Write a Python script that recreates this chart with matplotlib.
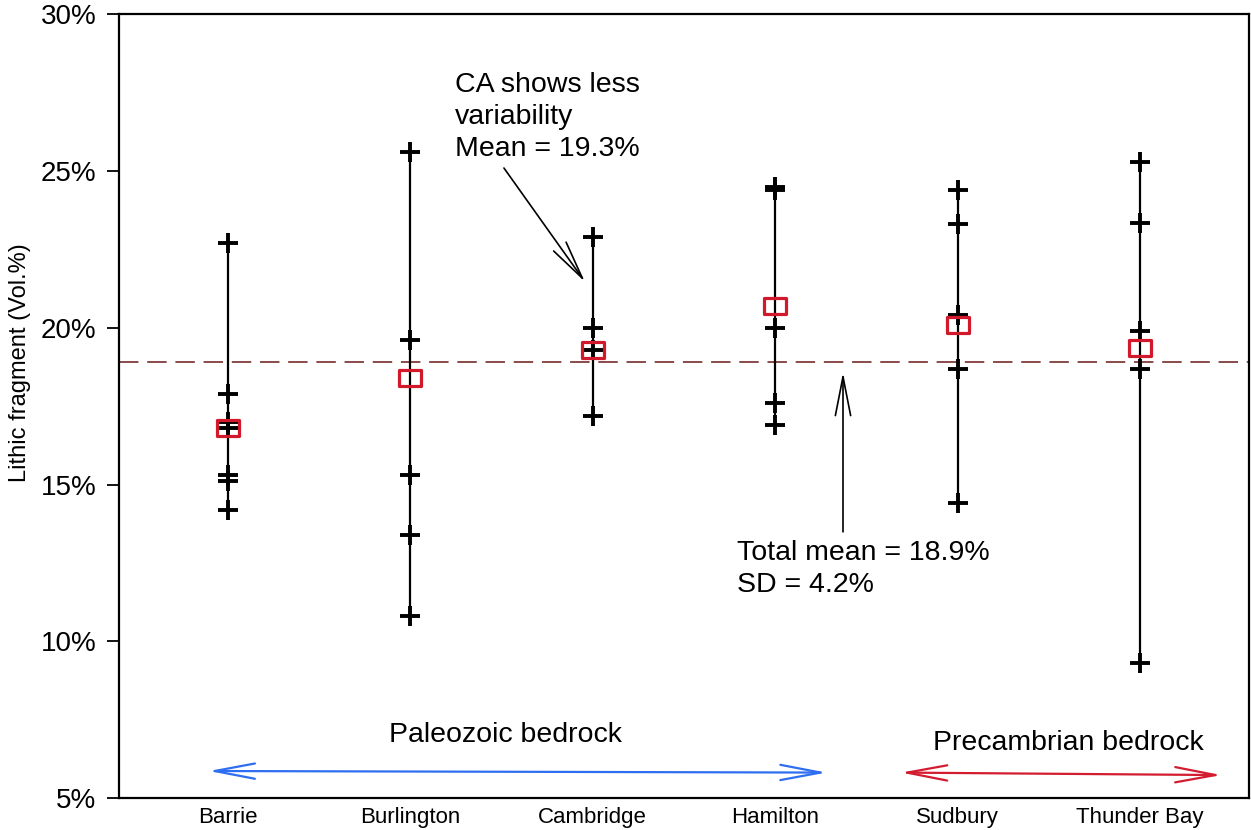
import numpy as np
import matplotlib
matplotlib.use("Agg")
import matplotlib.pyplot as plt
from matplotlib.path import Path

plt.rcParams['font.family'] = ['Liberation Sans', 'DejaVu Sans']

# lithic fragment content per sample (Vol.%)
sites = ["Barrie", "Burlington", "Cambridge", "Hamilton", "Sudbury", "Thunder Bay"]
barrie = [22.7, 17.9, 17.0, 16.8, 15.3, 15.1, 14.2]
burlington = [25.6, 19.6, 15.3, 13.4, 10.8]
cambridge = [22.9, 20.0, 19.3, 17.2]
hamilton = [24.5, 24.4, 20.0, 17.6, 16.9]
sudbury = [24.4, 23.3, 20.4, 18.7, 14.4]
thunder_bay = [25.3, 23.35, 19.9, 18.7, 9.3]
site_means = [16.8, 18.4, 19.3, 20.7, 20.1, 19.35]

total_mean = 18.9
total_sd = 4.2
ca_mean = 19.3

yticks = [5, 10, 15, 20, 25, 30]
ytick_labels = ["5%", "10%", "15%", "20%", "25%", "30%"]

samples = [barrie, burlington, cambridge, hamilton, sudbury, thunder_bay]
xpos = np.arange(1, len(sites) + 1)

fig = plt.figure(figsize=(12.51, 8.30), dpi=100)
ax = fig.add_axes([0.0955, 0.0386, 0.9029, 0.9440])

# range line + individual samples for each site
for x, vals in zip(xpos, samples):
    ax.plot([x, x], [min(vals), max(vals)], color="black", lw=1.6, zorder=2)
    ax.plot([x] * len(vals), vals, ls="none", marker="+", ms=15,
            mew=2.8, color="black", zorder=3)

# wide open box for the site mean
box = Path([(-1.45, -1), (1.45, -1), (1.45, 1), (-1.45, 1), (-1.45, -1)],
           [Path.MOVETO, Path.LINETO, Path.LINETO, Path.LINETO, Path.CLOSEPOLY])
ax.plot(xpos, site_means, ls="none", marker=box, ms=16.5, mew=2.3,
        mfc="none", mec="#d2192b", zorder=4)

ax.axhline(total_mean, color="#8a4a4a", lw=1.4, dashes=(10, 4.5), zorder=1)

head = "->,head_length=2.8,head_width=0.55"
ax.text(2.245, 28.17, "CA shows less\nvariability\nMean = %.1f%%" % ca_mean,
        fontsize=20.5, ha="left", va="top", linespacing=1.3)
ax.annotate("", xy=(2.957, 21.47), xytext=(2.513, 25.10),
            arrowprops=dict(arrowstyle=head, color="black", lw=1.2,
                            shrinkA=0, shrinkB=0))
ax.annotate("", xy=(4.372, 18.58), xytext=(4.372, 13.49),
            arrowprops=dict(arrowstyle=head, color="black", lw=1.2,
                            shrinkA=0, shrinkB=0))
ax.text(3.79, 13.23, "Total mean = %.1f%%\nSD = %.1f%%" % (total_mean, total_sd),
        fontsize=20.5, ha="left", va="top", linespacing=1.3)

# bedrock groups
ax.annotate("", xy=(0.894, 5.86), xytext=(4.282, 5.81),
            arrowprops=dict(arrowstyle="<->,head_length=2.9,head_width=0.55",
                            color="#2f6ef0", lw=1.6, shrinkA=0, shrinkB=0))
ax.text(2.524, 7.01, "Paleozoic bedrock", fontsize=20.5, ha="center", va="center")
ax.annotate("", xy=(4.69, 5.81), xytext=(6.447, 5.73),
            arrowprops=dict(arrowstyle="<->,head_length=2.9,head_width=0.55",
                            color="#d41c30", lw=1.6, shrinkA=0, shrinkB=0))
ax.text(5.605, 6.76, "Precambrian bedrock", fontsize=20.5, ha="center", va="center")

ax.set_xlim(0.405, 6.598)
ax.set_ylim(5, 30)
ax.set_xticks(xpos)
ax.set_xticklabels(sites, fontsize=16)
ax.set_yticks(yticks)
ax.set_yticklabels(ytick_labels, fontsize=20)
ax.tick_params(axis="x", length=0, pad=6.5)
ax.tick_params(axis="y", length=8.5, width=1.3, pad=8)
for sp in ax.spines.values():
    sp.set_linewidth(1.6)

ax.set_ylabel("Lithic fragment (Vol.%)", fontsize=17)
ax.yaxis.set_label_coords(-0.078, 0.556)

fig.savefig("out.png", dpi=100)
